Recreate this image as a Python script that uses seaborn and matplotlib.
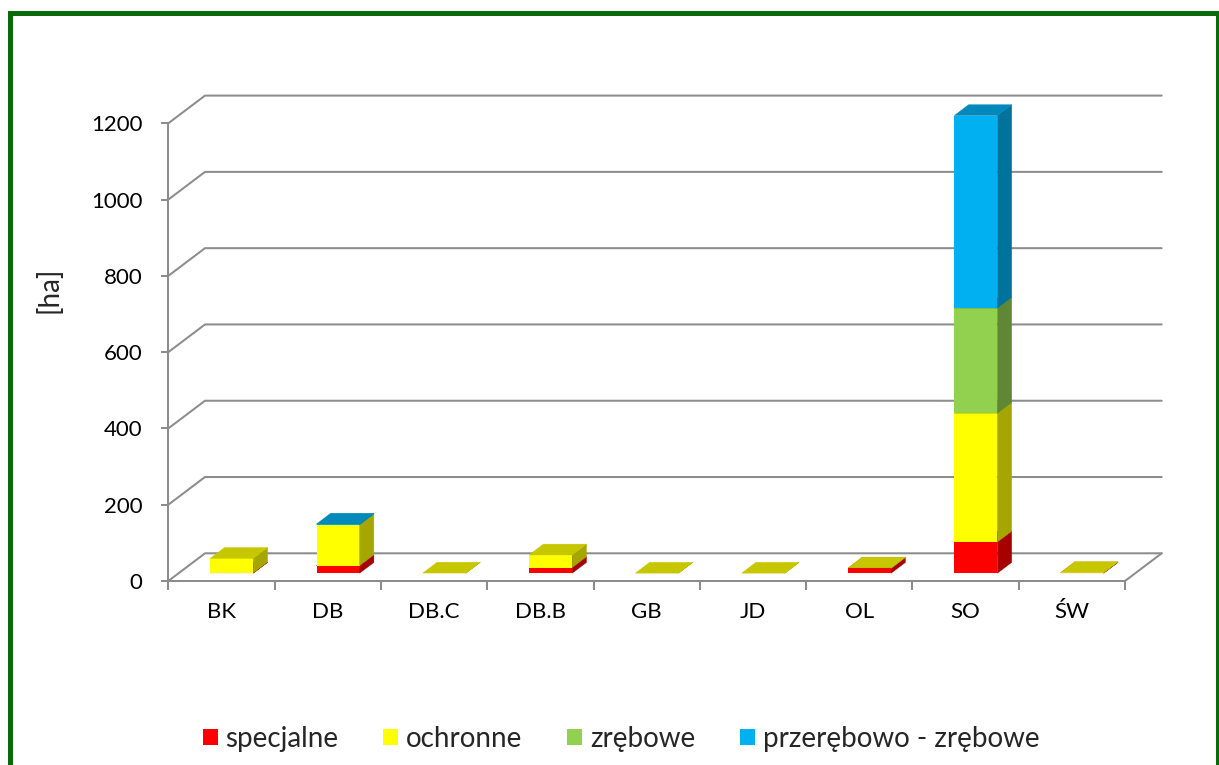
import numpy as np
import pandas as pd
import matplotlib
matplotlib.use("Agg")
import matplotlib.pyplot as plt
import matplotlib.colors as mcolors
from matplotlib.patches import Polygon, Rectangle, Patch
import seaborn as sns

# ---- data (ha) ----
categories = ["BK", "DB", "DB.C", "DB.B", "GB", "JD", "OL", "SO", "ŚW"]
specjalne = [1, 20, np.nan, 15, np.nan, np.nan, 13, 82, 1]
ochronne = [38, 107, 0.5, 33, 0.3, 0.3, 1, 337, 1]
zrebowe = [np.nan, np.nan, np.nan, np.nan, np.nan, np.nan, np.nan, 276, np.nan]
przerebowo_zrebowe = [np.nan, 2, np.nan, np.nan, np.nan, np.nan, np.nan, 505, np.nan]

series_names = ["specjalne", "ochronne", "zrębowe", "przerębowo - zrębowe"]
series_values = [specjalne, ochronne, zrebowe, przerebowo_zrebowe]
series_colors = ["#FF0000", "#FFFF00", "#92D050", "#00B0F0"]
y_ticks = [0, 200, 400, 600, 800, 1000, 1200]
y_label = "[ha]"

# ---- canvas ----
W, H, DPI = 1219, 765, 100
GRID_C = "#8c8c8c"
LW = 1.45
FS = 16
FS_BIG = 20

sns.set_theme(style="white")
plt.rcParams["font.family"] = ["Lato", "DejaVu Sans"]

fig = plt.figure(figsize=(W / DPI, H / DPI), dpi=DPI)
fig.patch.set_facecolor("white")

# front plane of the 3-D box (pixel extents)
fx0, fx1, fy0, fy1 = 168.3, 1125.0, 581.0, 123.3
ax = fig.add_axes([fx0 / W, (H - fy0) / H, (fx1 - fx0) / W, (fy0 - fy1) / H])
ax.set_facecolor("none")

# oblique projection offsets (display pixels, y up)
BACK = (36.7, 27.7)     # front plane -> back wall
BAR_FRONT = 0.28        # depth fraction of bar front faces
BAR_BACK = 0.67         # depth fraction of bar back faces

# ---- stacked bars (front faces) ----
bottoms = np.zeros(len(categories))
for name, vals, col in zip(series_names, series_values, series_colors):
    v = np.nan_to_num(np.array(vals, dtype=float))
    df = pd.DataFrame({"category": categories, "value": v})
    sns.barplot(data=df, x="category", y="value", order=categories, color=col,
                width=0.405, bottom=bottoms.copy(), errorbar=None,
                linewidth=0, edgecolor="none", saturation=1, ax=ax)
    bottoms = bottoms + v

ax.set_xlim(-0.5, len(categories) - 0.5)
ax.set_ylim(0, 1200)


def pix_to_data(dx_px, dy_px):
    p0 = ax.transData.transform((0, 0))
    p1 = ax.transData.inverted().transform((p0[0] + dx_px, p0[1] + dy_px))
    return p1[0], p1[1]


bdx, bdy = pix_to_data(*BACK)

# ---- walls and floor ----
xl, xr = -0.5, len(categories) - 0.5
for v in y_ticks:
    ax.plot([xl, xl + bdx, xr + bdx], [v, v + bdy, v + bdy], color=GRID_C,
            lw=LW, clip_on=False, zorder=1, solid_joinstyle="miter")
ax.plot([xr, xr + bdx], [0, bdy], color=GRID_C, lw=LW, clip_on=False, zorder=1)


def shade(c, k):
    r, g, b = mcolors.to_rgb(c)
    return (r * k, g * k, b * k)


# ---- 3-D faces built from the bar rectangles ----
ofx, ofy = BAR_FRONT * bdx, BAR_FRONT * bdy
ddx, ddy = (BAR_BACK - BAR_FRONT) * bdx, (BAR_BACK - BAR_FRONT) * bdy
for i, (vals, col, cont) in enumerate(zip(series_values, series_colors, ax.containers)):
    z = 3 + i * 0.1
    for val, rect in zip(vals, cont.patches):
        if np.isnan(val):
            rect.remove()
            continue
        rect.set_x(rect.get_x() + ofx)
        rect.set_y(rect.get_y() + ofy)
        rect.set_zorder(z)
        rect.set_clip_on(False)
        x0 = rect.get_x()
        x1 = x0 + rect.get_width()
        y0 = rect.get_y()
        y1 = y0 + rect.get_height()
        side = Polygon([(x1, y0), (x1, y1), (x1 + ddx, y1 + ddy), (x1 + ddx, y0 + ddy)],
                       closed=True, facecolor=shade(col, 0.65), edgecolor=shade(col, 0.65),
                       lw=0.3, zorder=z, clip_on=False)
        top = Polygon([(x0, y1), (x1, y1), (x1 + ddx, y1 + ddy), (x0 + ddx, y1 + ddy)],
                      closed=True, facecolor=shade(col, 0.78), edgecolor=shade(col, 0.78),
                      lw=0.3, zorder=z, clip_on=False)
        ax.add_patch(side)
        ax.add_patch(top)

# ---- axes styling ----
for s in ["top", "right"]:
    ax.spines[s].set_visible(False)
for s in ["left", "bottom"]:
    ax.spines[s].set_color(GRID_C)
    ax.spines[s].set_linewidth(LW)
    ax.spines[s].set_zorder(2)

ax.set_yticks(y_ticks)
ax.set_yticklabels([str(t) for t in y_ticks])
ax.tick_params(axis="y", length=5.4, width=LW, color=GRID_C, pad=13,
               labelsize=FS, labelcolor="black", left=True)
ax.set_xticks(range(len(categories)))
ax.set_xticklabels(categories)
ax.set_xticks(np.arange(-0.5, len(categories)), minor=True)
ax.tick_params(axis="x", which="major", length=0, pad=15, labelsize=FS, labelcolor="black")
ax.tick_params(axis="x", which="minor", length=6.5, width=LW, color=GRID_C, bottom=True)
ax.set_xlabel("")
ax.set_ylabel("")
ax.grid(False)

fig.text(49 / W, 1 - 290 / H, y_label, rotation=90, ha="center", va="center", fontsize=FS_BIG)

# ---- legend ----
handles = [Patch(facecolor=c, edgecolor="none", label=n) for n, c in zip(series_names, series_colors)]
fig.legend(handles=handles, loc="center", bbox_to_anchor=(621 / W, 1 - 739 / H), ncol=4,
           frameon=False, fontsize=FS_BIG, handlelength=0.54, handleheight=0.54,
           handletextpad=0.29, columnspacing=1.6)

# ---- outer frame ----
fig.add_artist(Rectangle((9.5 / W, -20 / H), (1217.5 - 9.5) / W, (H - 12.5 + 20) / H,
                         transform=fig.transFigure, fill=False, edgecolor="#0a6a0a",
                         lw=3.6, clip_on=False))

fig.savefig("out.png", dpi=DPI, facecolor="white")
